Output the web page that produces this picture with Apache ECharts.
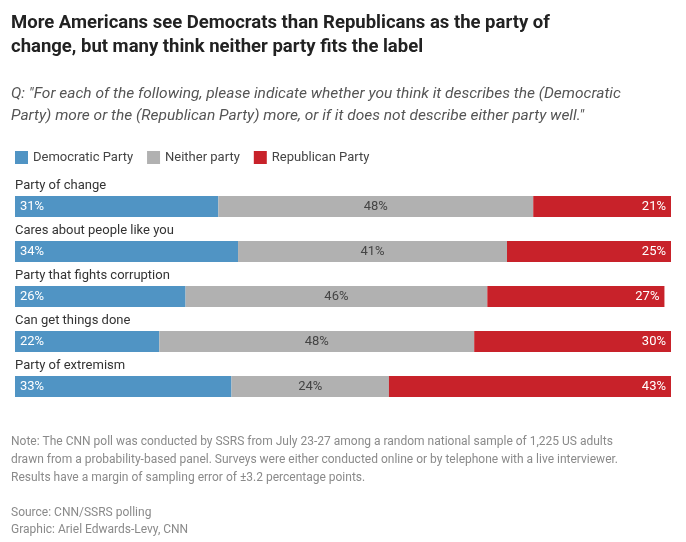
<!DOCTYPE html>
<html><head><meta charset="utf-8">
<script src="https://cdn.jsdelivr.net/npm/echarts@6/dist/echarts.min.js"></script>
<style>html,body{margin:0;background:#fff}#c{width:686px;height:542px}</style>
</head><body><div id="c"></div>
<script>
var categories = ['Party of change', 'Cares about people like you', 'Party that fights corruption', 'Can get things done', 'Party of extremism'];
var dem = [31, 34, 26, 22, 33];
var neither = [48, 41, 46, 48, 24];
var rep = [21, 25, 27, 30, 43];
var seriesNames = ['Democratic Party', 'Neither party', 'Republican Party'];
var colors = ['#5094c4', '#b1b1b1', '#c8222a'];

var font = 'Roboto, "Liberation Sans", sans-serif';
var chart = echarts.init(document.getElementById('c'));

function bar(i, data, pos, txtColor) {
    return {
        name: seriesNames[i], type: 'bar', stack: 'a', data: data, barWidth: 21,
        itemStyle: {color: colors[i]},
        label: {show: true, position: pos, formatter: '{c}%', color: txtColor, fontSize: 13, fontFamily: font}
    };
}

chart.setOption({
    textStyle: {fontFamily: font},
    title: [
        {text: 'More Americans see Democrats than Republicans as the party of\nchange, but many think neither party fits the label', left: 6, top: 6,
         textStyle: {fontSize: 18.5, fontWeight: 'bold', color: '#222', lineHeight: 24, fontFamily: font}},
        {text: 'Q: "For each of the following, please indicate whether you think it describes the (Democratic\nParty) more or the (Republican Party) more, or if it does not describe either party well."', left: 6, top: 78,
         textStyle: {fontSize: 15.5, fontStyle: 'italic', fontWeight: 'normal', color: '#555', lineHeight: 22, fontFamily: font}},
        {text: 'Note: The CNN poll was conducted by SSRS from July 23-27 among a random national sample of 1,225 US adults\ndrawn from a probability-based panel. Surveys were either conducted online or by telephone with a live interviewer.\nResults have a margin of sampling error of ±3.2 percentage points.', left: 6, top: 428,
         textStyle: {fontSize: 12, fontWeight: 'normal', color: '#8a8a8a', lineHeight: 18, fontFamily: font}},
        {text: 'Source: CNN/SSRS polling\nGraphic: Ariel Edwards-Levy, CNN', left: 6, top: 499,
         textStyle: {fontSize: 12, fontWeight: 'normal', color: '#8a8a8a', lineHeight: 17, fontFamily: font}}
    ],
    legend: {left: 10, top: 146, icon: 'rect', itemWidth: 13, itemHeight: 13, itemGap: 14,
             textStyle: {fontSize: 13, color: '#444', fontFamily: font}, data: seriesNames},
    grid: {left: 15, right: 15, top: 184, height: 225},
    xAxis: {type: 'value', min: 0, max: 100, show: false},
    yAxis: {type: 'category', data: categories, inverse: true,
            axisLine: {show: false}, axisTick: {show: false},
            axisLabel: {inside: true, margin: 0, align: 'left', verticalAlign: 'bottom', padding: [0, 0, 14, 0],
                        fontSize: 13, color: '#333', fontFamily: font}},
    series: [
        bar(0, dem, 'insideLeft', '#fff'),
        bar(1, neither, 'inside', '#444'),
        bar(2, rep, 'insideRight', '#fff')
    ]
});
</script></body></html>
